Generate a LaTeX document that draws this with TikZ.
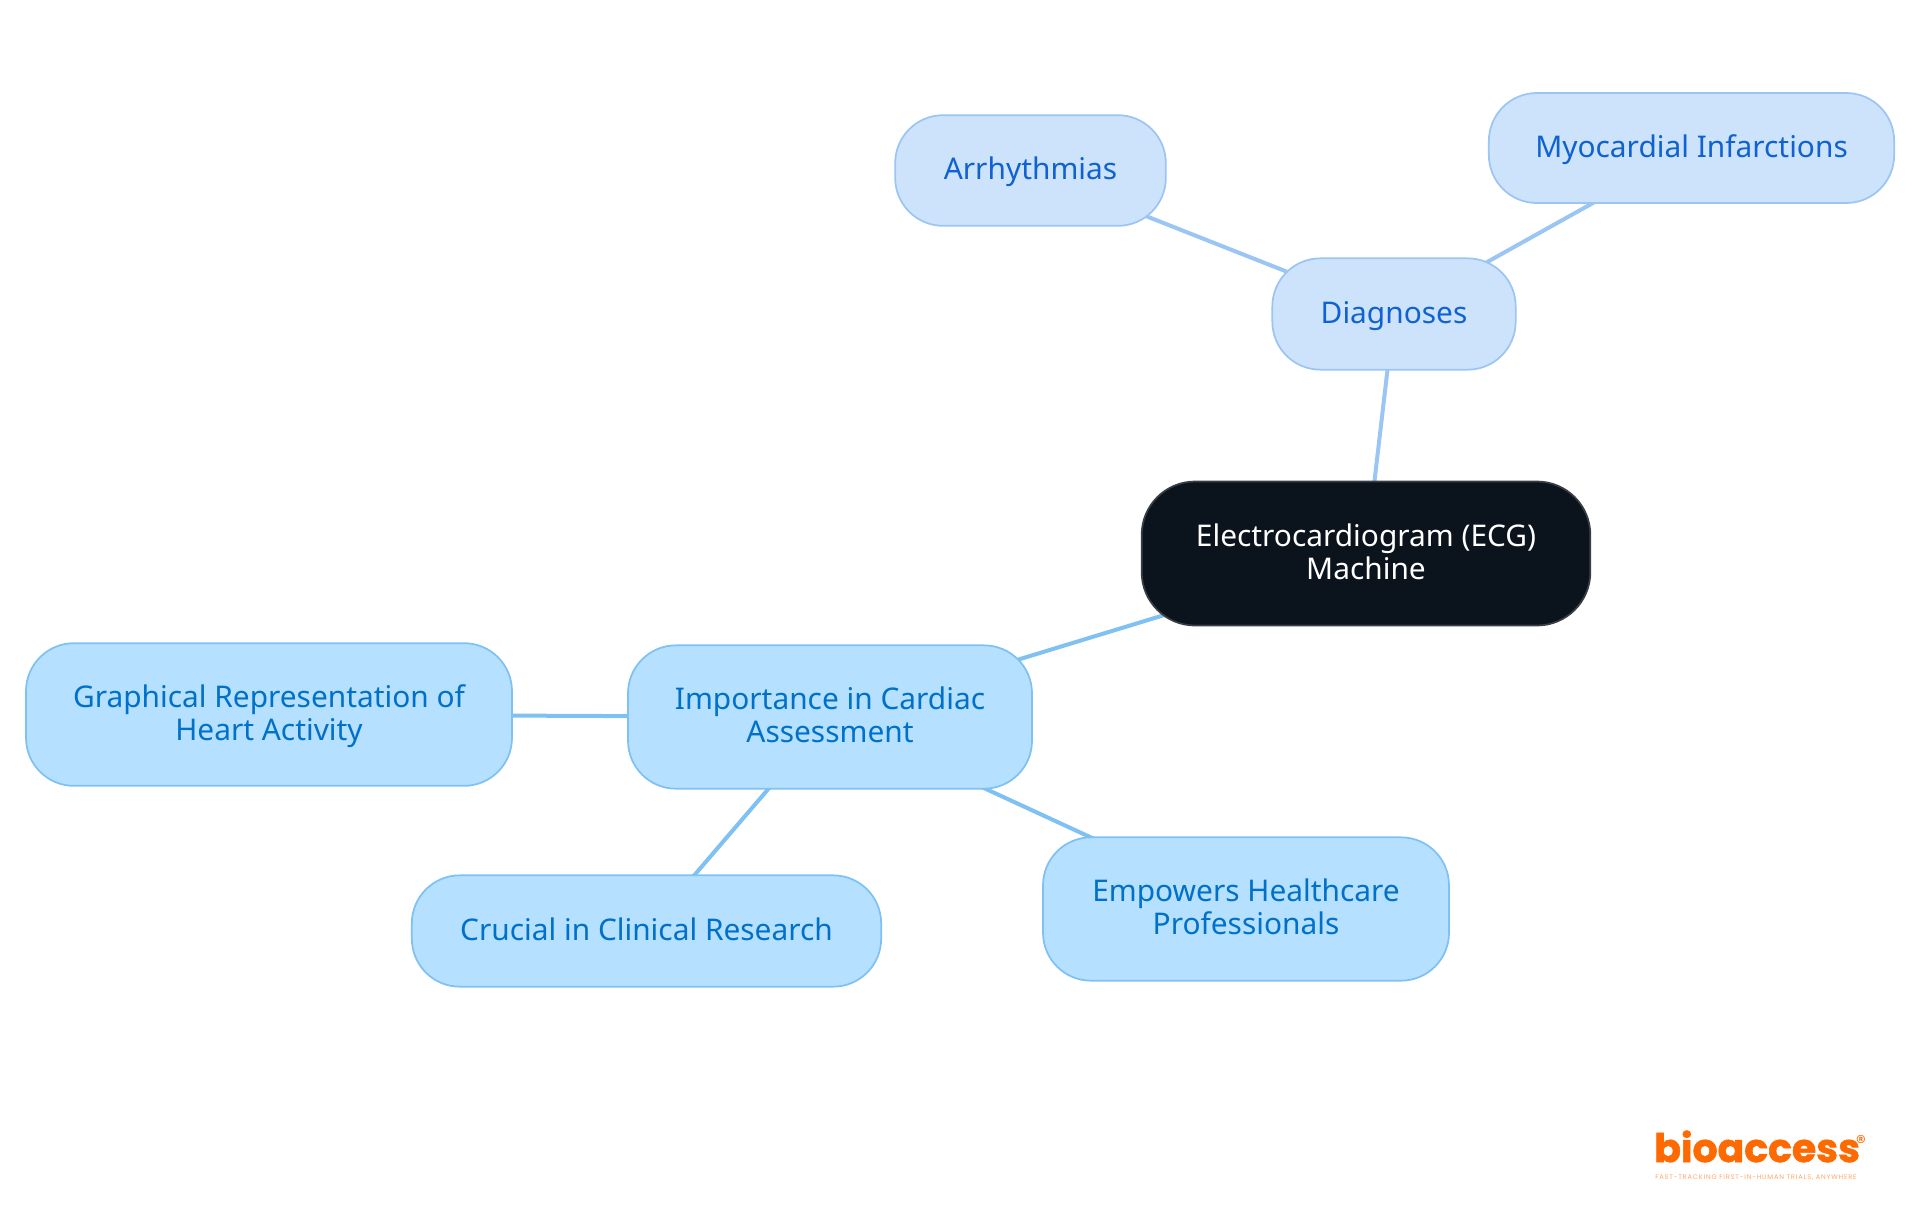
\documentclass[tikz,border=0pt]{standalone}
\usepackage{xcolor}
\usepackage{fontspec}
\setmainfont{Noto Sans}
\newfontfamily\logofont[BoldFeatures={FakeBold=1.5}]{Poppins}
\newfontfamily\tagfont[LetterSpace=12]{Poppins}
\usetikzlibrary{backgrounds}
\definecolor{rootFill}{HTML}{0B131C}
\definecolor{rootLine}{HTML}{3A3F46}
\definecolor{skyFill}{HTML}{B5E0FF}
\definecolor{skyLine}{HTML}{7FC1F2}
\definecolor{skyText}{HTML}{0070C9}
\definecolor{paleFill}{HTML}{CDE3FC}
\definecolor{paleLine}{HTML}{9BC5F2}
\definecolor{paleText}{HTML}{0F62D0}
\definecolor{logoOrange}{HTML}{FF6A00}
\tikzset{
	topic/.style={draw, line width=1.3pt, rounded corners=36pt, align=center, inner sep=0pt, font=\fontsize{22.4}{24.75}\selectfont, text height=21pt, text depth=7.4pt},
	twolines/.style={text height=46pt, text depth=7.6pt},
	rootnode/.style={topic, fill=rootFill, draw=rootLine, text=white, rounded corners=40pt},
	skynode/.style={topic, fill=skyFill, draw=skyLine, text=skyText},
	palenode/.style={topic, fill=paleFill, draw=paleLine, text=paleText},
	skylink/.style={draw=skyLine, line width=3pt},
	palelink/.style={draw=paleLine, line width=3pt}
}
\begin{document}
\begin{tikzpicture}[x=0.75pt,y=-0.75pt]
	\useasboundingbox (0,0) rectangle (1920,1215);
	
	% Centre of the map
	\node[rootnode,twolines,minimum width=336.5pt,minimum height=108pt] (ecg) at (1366,553.5) {Electrocardiogram (ECG)\\Machine};
	
	% Upper branch
	\node[palenode,minimum width=182.5pt,minimum height=83.5pt] (diagnoses) at (1394,314) {Diagnoses};
	\node[palenode,minimum width=203pt,minimum height=83pt] (arrhythmias) at (1030.5,170.5) {Arrhythmias};
	\node[palenode,minimum width=304pt,minimum height=82.5pt] (infarctions) at (1691.5,148) {Myocardial Infarctions};
	
	% Lower branch
	\node[skynode,twolines,minimum width=303pt,minimum height=107.5pt] (importance) at (830,717) {Importance in Cardiac\\Assessment};
	\node[skynode,twolines,minimum width=364.5pt,minimum height=107pt] (graphical) at (269,714.5) {Graphical Representation of\\Heart Activity};
	\node[skynode,minimum width=352pt,minimum height=83.5pt] (clinical) at (646.5,931) {Crucial in Clinical Research};
	\node[skynode,twolines,minimum width=304.5pt,minimum height=107.5pt] (empowers) at (1246,909) {Empowers Healthcare\\Professionals};
	
	\begin{scope}[on background layer]
		\foreach \a/\b in {ecg/diagnoses,diagnoses/arrhythmias,diagnoses/infarctions} {
			\draw[palelink] (\a.center) -- (\b.center);
		}
		\foreach \a/\b in {ecg/importance,importance/graphical,importance/clinical,importance/empowers} {
			\draw[skylink] (\a.center) -- (\b.center);
		}
	\end{scope}
	
	% Logo
	\node[inner sep=0pt,anchor=base west,text=logoOrange,font=\logofont\bfseries\fontsize{29.5}{30}\selectfont] (logo) at (1654,1162) {bioaccess};
	\node[inner sep=0pt,text=logoOrange,font=\logofont\fontsize{15}{15}\selectfont] (reg) at (1861,1142) {®};
	\node[inner sep=0pt,anchor=base west,text=logoOrange!60,font=\tagfont\fontsize{5}{5}\selectfont] (tagline) at (1655,1179) {FAST-TRACKING FIRST-IN-HUMAN TRIALS, ANYWHERE};
\end{tikzpicture}
\end{document}
